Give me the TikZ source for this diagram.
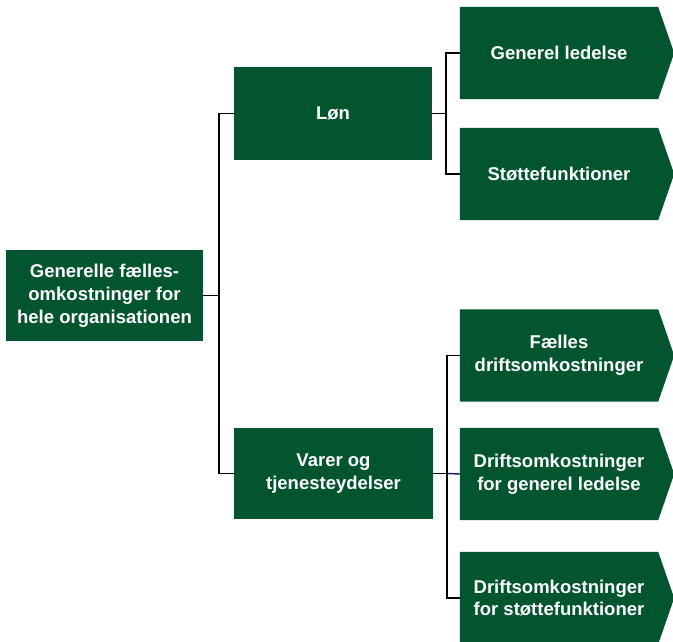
\documentclass[tikz,border=0pt]{standalone}
\usepackage{fontspec}
\setmainfont{Liberation Sans}
\usetikzlibrary{backgrounds}
\definecolor{boxgreen}{RGB}{3,85,48}
\definecolor{navyline}{RGB}{25,25,95}
\begin{document}
\begin{tikzpicture}[x=1pt,y=-1pt,
  box/.style={rectangle, fill=boxgreen, text=white, align=center, inner sep=0pt,
    font=\fontsize{18.5}{23}\selectfont\bfseries, minimum height=92pt},
  tbox/.style={rectangle, text=white, align=center, inner sep=0pt,
    font=\fontsize{18.5}{22.5}\selectfont\bfseries, minimum width=198pt, minimum height=92pt},
  conn/.style={draw=black, line width=1.4pt}]
\useasboundingbox (0,0) rectangle (673,641);
% left root
\node[box, minimum width=197pt, minimum height=91pt] (root) at (104.5,295.5) {Generelle fælles-\\omkostninger for\\hele organisationen};
% middle
\node[box, minimum width=198pt, minimum height=93pt] (lon) at (333,113.5) {Løn};
\node[box, minimum width=199pt, minimum height=91pt] (varer) at (333.5,473.5) {Varer og\\tjenesteydelser};
% right pentagons (text nodes)
\node[tbox] (g1) at (559,53) {Generel ledelse};
\node[tbox] (g2) at (559,174) {Støttefunktioner};
\node[tbox] (f1) at (559,355.5) {Fælles\\driftsomkostninger};
\node[tbox] (f2) at (559,474) {Driftsomkostninger\\for generel ledelse};
\node[tbox] (f3) at (559,598) {Driftsomkostninger\\for støttefunktioner};
\begin{scope}[on background layer]
\foreach \n in {g1,g2,f1,f2,f3}{
  \fill[boxgreen] (\n.north west) -- (\n.north east) -- ([xshift=16pt]\n.east) -- (\n.south east) -- (\n.south west) -- cycle;
}
\end{scope}
% connectors
\draw[conn] (root.east) -- ([xshift=15pt]root.east);
\draw[conn] (lon.west) -- ++(-15,0) |- (varer.west);
\draw[conn] (lon.east) -- ++(14,0);
\draw[conn] (g1.west) -- ++(-14,0) |- (g2.west);
\draw[conn] (varer.east) -- ++(14,0);
\draw[line width=1.4pt, draw=navyline] ([xshift=14pt]varer.east) -- (f2.west);
\draw[conn] (f1.west) -- ++(-13,0) |- (f3.west);
\end{tikzpicture}
\end{document}
